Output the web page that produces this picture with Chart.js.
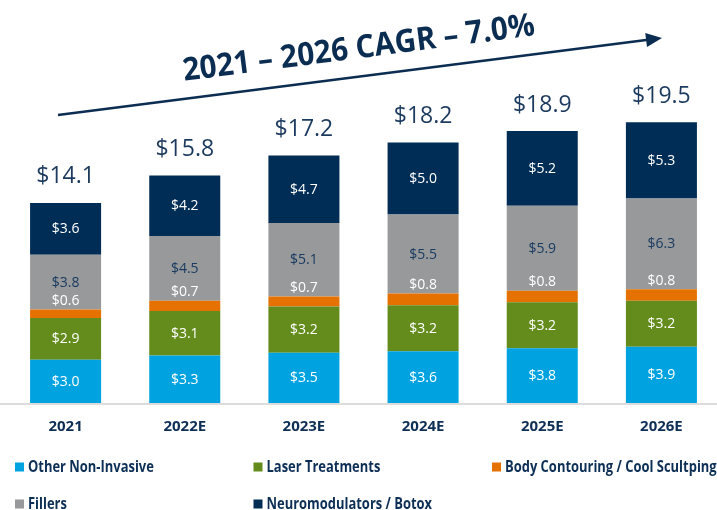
<!DOCTYPE html>
<html>
<head>
<meta charset="utf-8">
<script src="https://cdn.jsdelivr.net/npm/chart.js@4.4.1/dist/chart.umd.min.js"></script>
<style>
  html, body { margin: 0; padding: 0; background: #ffffff; overflow: hidden; width: 717px; height: 510px; }
  #wrap { width: 717px; height: 510px; overflow: hidden; position: relative; }
  canvas { display: block; }
</style>
</head>
<body>
<div id="wrap"><canvas id="c" width="725" height="510"></canvas></div>
<script>
const categories = ['2021', '2022E', '2023E', '2024E', '2025E', '2026E'];
const otherNonInvasive = [3.0, 3.3, 3.5, 3.6, 3.8, 3.9];
const laserTreatments = [2.9, 3.1, 3.2, 3.2, 3.2, 3.2];
const bodyContouring = [0.6, 0.7, 0.7, 0.8, 0.8, 0.8];
const fillers = [3.8, 4.5, 5.1, 5.5, 5.9, 6.3];
const neuromodulators = [3.6, 4.2, 4.7, 5.0, 5.2, 5.3];
const totals = [14.1, 15.8, 17.2, 18.2, 18.9, 19.5];
const titleText = '2021 \u2013 2026 CAGR \u2013 7.0%';

const NAVY = '#0d2f55';

const datasets = [
  { label: 'Other Non-Invasive', data: otherNonInvasive, backgroundColor: '#00a3e0', labelColor: '#ffffff', legendRow: 0, legendCol: 0 },
  { label: 'Laser Treatments', data: laserTreatments, backgroundColor: '#648c1c', labelColor: '#ffffff', legendRow: 0, legendCol: 1 },
  { label: 'Body Contouring / Cool Scultping', data: bodyContouring, backgroundColor: '#e57200', labelColor: '#ffffff', above: true, legendRow: 0, legendCol: 2 },
  { label: 'Fillers', data: fillers, backgroundColor: '#97999b', labelColor: '#1a3b60', legendRow: 1, legendCol: 0 },
  { label: 'Neuromodulators / Botox', data: neuromodulators, backgroundColor: '#002d55', labelColor: '#ffffff', legendRow: 1, legendCol: 1 }
];

const fmt = v => '$' + v.toFixed(1);

const decor = {
  id: 'decor',
  afterDatasetsDraw(chart) {
    const ctx = chart.ctx;
    const n = chart.data.datasets.length;
    ctx.save();
    // baseline
    const yb = chart.scales.y.getPixelForValue(0);
    ctx.fillStyle = '#dcdcdc';
    ctx.fillRect(0, yb, chart.width, 2);

    // segment labels
    ctx.font = '14px "Open Sans", sans-serif';
    ctx.textAlign = 'center';
    ctx.textBaseline = 'middle';
    chart.data.datasets.forEach((ds, di) => {
      const meta = chart.getDatasetMeta(di);
      meta.data.forEach((bar, i) => {
        const v = ds.data[i];
        ctx.fillStyle = ds.labelColor;
        let y;
        if (ds.above) {
          y = Math.min(bar.y, bar.base) - 9;
        } else {
          y = (bar.y + bar.base) / 2;
        }
        ctx.fillText(fmt(v), bar.x, y + 0.5);
      });
    });

    // totals
    const topMeta = chart.getDatasetMeta(n - 1);
    ctx.font = '23px "Open Sans", sans-serif';
    ctx.fillStyle = '#1b3a5e';
    topMeta.data.forEach((bar, i) => {
      ctx.fillText(fmt(totals[i]), bar.x, bar.y - 26);
    });

    // arrow
    const x0 = 58, y0 = 115, x1 = 662, y1 = 38;
    const ang = Math.atan2(y1 - y0, x1 - x0);
    ctx.strokeStyle = '#0b2d52';
    ctx.lineWidth = 2.6;
    ctx.beginPath();
    ctx.moveTo(x0, y0);
    ctx.lineTo(x1 - 12 * Math.cos(ang), y1 - 12 * Math.sin(ang));
    ctx.stroke();
    ctx.fillStyle = '#0b2d52';
    ctx.beginPath();
    ctx.moveTo(x1, y1);
    const hl = 16, hw = 7;
    const bx = x1 - hl * Math.cos(ang), by = y1 - hl * Math.sin(ang);
    ctx.lineTo(bx + hw * Math.sin(ang), by - hw * Math.cos(ang));
    ctx.lineTo(bx - hw * Math.sin(ang), by + hw * Math.cos(ang));
    ctx.closePath();
    ctx.fill();

    // title
    ctx.save();
    ctx.translate(360, 58);
    ctx.rotate(-7.4 * Math.PI / 180);
    ctx.scale(0.93, 1);
    ctx.font = 'bold 32px "Open Sans", sans-serif';
    ctx.fillStyle = '#0b2d52';
    ctx.textAlign = 'center';
    ctx.textBaseline = 'alphabetic';
    ctx.fillText(titleText, 0, 0);
    ctx.restore();

    // legend (condensed bold text)
    ctx.textAlign = 'left';
    ctx.textBaseline = 'middle';
    chart.data.datasets.forEach(ds => {
      const lx = 15 + ds.legendCol * 238.5;
      const ly = 467 + ds.legendRow * 37;
      ctx.fillStyle = ds.backgroundColor;
      ctx.fillRect(lx, ly - 4.5, 9, 9);
      ctx.save();
      ctx.translate(lx + 13, ly + 0.5);
      ctx.scale(0.83, 1);
      ctx.font = 'bold 15.6px "Open Sans", sans-serif';
      ctx.fillStyle = NAVY;
      ctx.fillText(ds.label, 0, 0);
      ctx.restore();
    });
    ctx.restore();
  }
};

new Chart(document.getElementById('c'), {
  type: 'bar',
  data: {
    labels: categories,
    datasets: datasets.map(d => Object.assign({ borderWidth: 0, barPercentage: 0.596, categoryPercentage: 1.0 }, d))
  },
  options: {
    responsive: false,
    animation: false,
    devicePixelRatio: 1,
    layout: { padding: { left: 6, right: 4, top: 0, bottom: 59 } },
    plugins: { legend: { display: false }, tooltip: { enabled: false }, title: { display: false } },
    scales: {
      x: {
        stacked: true,
        grid: { display: false, drawTicks: false },
        border: { display: false },
        ticks: { color: NAVY, padding: 15, font: { family: '"Open Sans", sans-serif', weight: 'bold', size: 15 } }
      },
      y: {
        stacked: true,
        display: false,
        min: 0,
        max: 28
      }
    }
  },
  plugins: [decor]
});
</script>
</body>
</html>
